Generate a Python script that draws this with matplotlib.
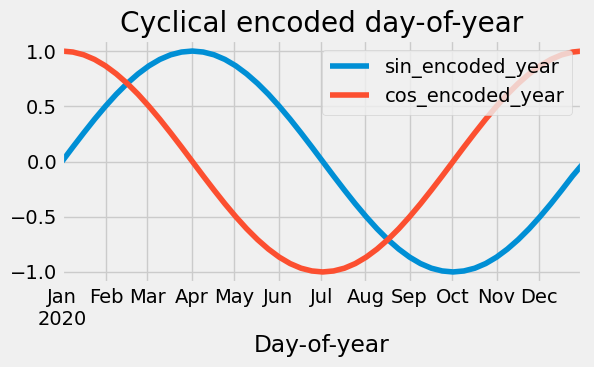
import matplotlib
matplotlib.use("Agg")
import matplotlib.pyplot as plt
import numpy as np
import pandas as pd

plt.style.use("fivethirtyeight")

day_offset = [0.0, 7.625, 15.25, 22.875, 30.5, 38.125, 45.75, 53.375, 61.0, 68.625,
              76.25, 83.875, 91.5, 99.125, 106.75, 114.375, 122.0, 129.625, 137.25,
              144.875, 152.5, 160.125, 167.75, 175.375, 183.0, 190.625, 198.25,
              205.875, 213.5, 221.125, 228.75, 236.375, 244.0, 251.625, 259.25,
              266.875, 274.5, 282.125, 289.75, 297.375, 305.0, 312.625, 320.25,
              327.875, 335.5, 343.125, 350.75, 358.375, 365.0]
sin_encoded_year = [0.000, 0.131, 0.259, 0.383, 0.500, 0.609, 0.707, 0.793, 0.866,
                    0.924, 0.966, 0.991, 1.000, 0.991, 0.966, 0.924, 0.866, 0.793,
                    0.707, 0.609, 0.500, 0.383, 0.259, 0.131, 0.000, -0.131, -0.259,
                    -0.383, -0.500, -0.609, -0.707, -0.793, -0.866, -0.924, -0.966,
                    -0.991, -1.000, -0.991, -0.966, -0.924, -0.866, -0.793, -0.707,
                    -0.609, -0.500, -0.383, -0.259, -0.131, -0.030]
cos_encoded_year = [1.000, 0.991, 0.966, 0.924, 0.866, 0.793, 0.707, 0.609, 0.500,
                    0.383, 0.259, 0.131, 0.000, -0.131, -0.259, -0.383, -0.500,
                    -0.609, -0.707, -0.793, -0.866, -0.924, -0.966, -0.991, -1.000,
                    -0.991, -0.966, -0.924, -0.866, -0.793, -0.707, -0.609, -0.500,
                    -0.383, -0.259, -0.131, 0.000, 0.131, 0.259, 0.383, 0.500, 0.609,
                    0.707, 0.793, 0.866, 0.924, 0.966, 0.991, 1.000]
month_labels = ["Jan\n2020", "Feb", "Mar", "Apr", "May", "Jun", "Jul", "Aug",
                "Sep", "Oct", "Nov", "Dec"]

x = pd.Timestamp("2020-01-01") + pd.to_timedelta(day_offset, unit="D")
fig = plt.figure(figsize=(5.94, 3.67), dpi=100)
ax = fig.add_axes([62/594, (367-283)/367, (582-62)/594, (283-40)/367])
ax.plot(x, sin_encoded_year, label="sin_encoded_year", solid_joinstyle="round")
ax.plot(x, cos_encoded_year, label="cos_encoded_year", solid_joinstyle="round")
ax.set_xlim(x[0], x[-1])
ticks = pd.date_range("2020-01-01", periods=12, freq="MS")
ax.set_xticks(ticks)
ax.set_xticklabels(month_labels)
ax.set_yticks([-1.0, -0.5, 0.0, 0.5, 1.0])
ax.set_title("Cyclical encoded day-of-year")
ax.set_xlabel("Day-of-year")
ax.legend(loc="upper right")
fig.savefig("out.png", dpi=100)
